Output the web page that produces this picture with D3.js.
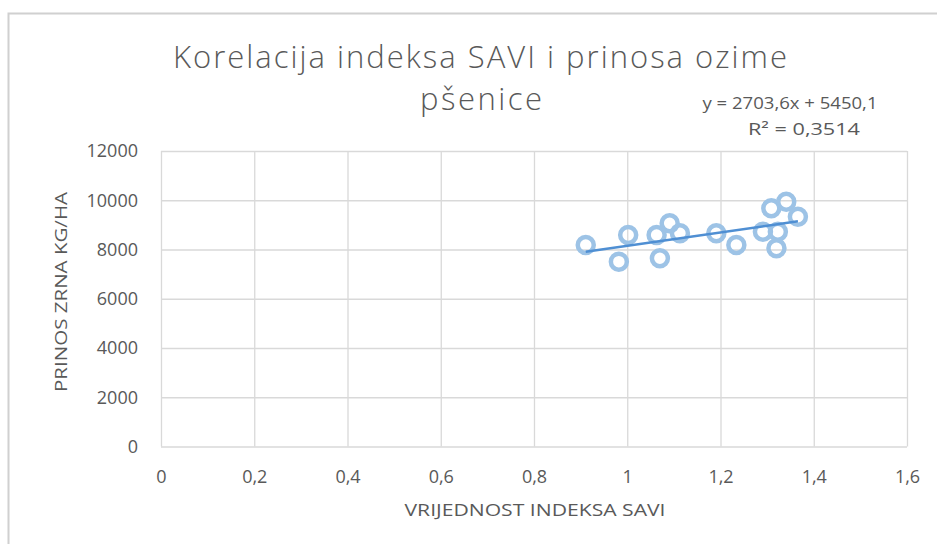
<!DOCTYPE html>
<html>
<head>
<meta charset="utf-8">
<script src="https://cdn.jsdelivr.net/npm/d3@7"></script>
<style>
  body { margin: 0; background: #fff; }
  svg { font-family: "Open Sans", sans-serif; }
</style>
</head>
<body>
<svg id="chart"></svg>
<script>
const w = 937;
const h = 544;

// data
const saviValues = [0.911, 0.982, 1.002, 1.063, 1.070, 1.091, 1.113, 1.191, 1.234, 1.291, 1.309, 1.323, 1.320, 1.341, 1.366];
const yieldValues = [8183, 7505, 8589, 8589, 7643, 9064, 8658, 8658, 8183, 8723, 9673, 8723, 8049, 9941, 9332];
const xTicks = [0, 0.2, 0.4, 0.6, 0.8, 1, 1.2, 1.4, 1.6];
const yTicks = [0, 2000, 4000, 6000, 8000, 10000, 12000];
const trendSlope = 2703.6;
const trendIntercept = 5450.1;
const titleLines = ["Korelacija indeksa SAVI i prinosa ozime", "pšenice"];
const equationLines = ["y = 2703,6x + 5450,1", "R² = 0,3514"];
const xTitle = "VRIJEDNOST INDEKSA SAVI";
const yTitle = "PRINOS ZRNA KG/HA";

const plotLeft = 161, plotRight = 907, plotTop = 151, plotBottom = 446.5;
const textColor = "#595959";

const svg = d3.select("#chart")
    .attr("width", w)
    .attr("height", h);

// chart frame
svg.append("rect")
    .attr("x", 8.5).attr("y", 13.5)
    .attr("width", w + 10).attr("height", h + 10)
    .attr("fill", "#fff")
    .attr("stroke", "#d0d0d0")
    .attr("stroke-width", 2);

const xScale = d3.scaleLinear().domain([0, 1.6]).range([plotLeft, plotRight]);
const yScale = d3.scaleLinear().domain([0, 12000]).range([plotBottom, plotTop]);

const comma = (d) => String(d).replace(".", ",");

// gridlines
svg.append("g")
    .attr("transform", "translate(0," + plotBottom + ")")
    .call(d3.axisBottom(xScale).tickValues(xTicks).tickSize(-(plotBottom - plotTop)).tickFormat(""))
    .call((g) => g.select(".domain").remove())
    .call((g) => g.selectAll("line").attr("stroke", "#d9d9d9").attr("stroke-width", 1.3));

svg.append("g")
    .attr("transform", "translate(" + plotLeft + ",0)")
    .call(d3.axisLeft(yScale).tickValues(yTicks).tickSize(-(plotRight - plotLeft)).tickFormat(""))
    .call((g) => g.select(".domain").remove())
    .call((g) => g.selectAll("line").attr("stroke", "#d9d9d9").attr("stroke-width", 1.3));

// tick labels
svg.append("g")
    .attr("id", "x-axis")
    .attr("transform", "translate(0," + plotBottom + ")")
    .call(d3.axisBottom(xScale).tickValues(xTicks).tickSize(0).tickPadding(24).tickFormat(comma))
    .call((g) => g.select(".domain").remove())
    .call((g) => g.selectAll("text").attr("fill", textColor).attr("font-size", 18).attr("font-family", "Open Sans"));

svg.append("g")
    .attr("id", "y-axis")
    .attr("transform", "translate(" + plotLeft + ",0)")
    .call(d3.axisLeft(yScale).tickValues(yTicks).tickSize(0).tickPadding(23).tickFormat((d) => String(d)))
    .call((g) => g.select(".domain").remove())
    .call((g) => g.selectAll("text").attr("fill", textColor).attr("font-size", 18).attr("font-family", "Open Sans"));

// markers
svg.append("g")
    .selectAll("circle")
    .data(saviValues)
    .enter()
    .append("circle")
    .attr("cx", (d) => xScale(d))
    .attr("cy", (d, i) => yScale(yieldValues[i]))
    .attr("r", 8)
    .attr("fill", "none")
    .attr("stroke", "#9dc3e6")
    .attr("stroke-width", 4.5);

// linear trendline
const xExt = d3.extent(saviValues);
svg.append("line")
    .attr("x1", xScale(xExt[0]))
    .attr("y1", yScale(trendSlope * xExt[0] + trendIntercept))
    .attr("x2", xScale(xExt[1]))
    .attr("y2", yScale(trendSlope * xExt[1] + trendIntercept))
    .attr("stroke", "#4f8fd3")
    .attr("stroke-width", 2.5);

// title
svg.append("text")
    .attr("x", 480).attr("y", 68)
    .attr("text-anchor", "middle")
    .attr("font-size", 31).attr("font-weight", 300)
    .attr("fill", textColor)
    .attr("textLength", 614).attr("lengthAdjust", "spacing")
    .text(titleLines[0]);
svg.append("text")
    .attr("x", 481).attr("y", 110)
    .attr("text-anchor", "middle")
    .attr("font-size", 31).attr("font-weight", 300)
    .attr("fill", textColor)
    .attr("textLength", 122).attr("lengthAdjust", "spacing")
    .text(titleLines[1]);

// trendline label
svg.append("text")
    .attr("x", 790).attr("y", 109)
    .attr("text-anchor", "middle")
    .attr("font-size", 17).attr("fill", textColor)
    .attr("textLength", 175).attr("lengthAdjust", "spacingAndGlyphs")
    .text(equationLines[0]);
svg.append("text")
    .attr("x", 804).attr("y", 135)
    .attr("text-anchor", "middle")
    .attr("font-size", 17).attr("fill", textColor)
    .attr("textLength", 112).attr("lengthAdjust", "spacingAndGlyphs")
    .text(equationLines[1]);

// axis titles
svg.append("text")
    .attr("x", 535).attr("y", 516)
    .attr("text-anchor", "middle")
    .attr("font-size", 16).attr("fill", textColor)
    .attr("textLength", 261).attr("lengthAdjust", "spacingAndGlyphs")
    .text(xTitle);
svg.append("text")
    .attr("transform", "translate(67,292) rotate(-90)")
    .attr("text-anchor", "middle")
    .attr("font-size", 16).attr("fill", textColor)
    .attr("textLength", 200).attr("lengthAdjust", "spacingAndGlyphs")
    .text(yTitle);
</script>
</body>
</html>
